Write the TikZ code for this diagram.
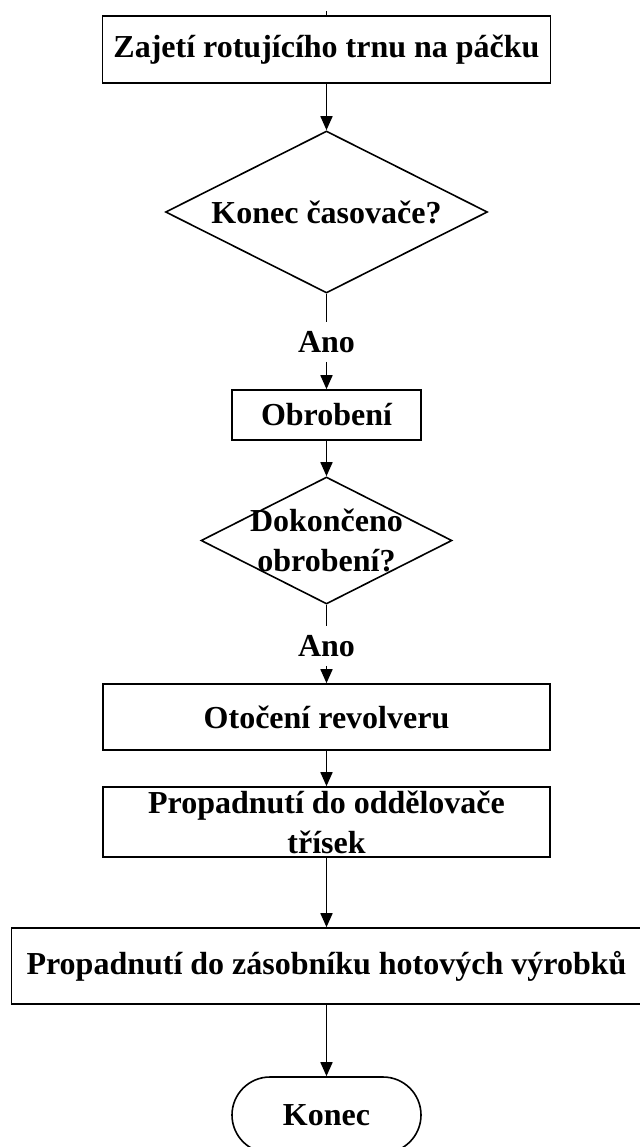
\documentclass[tikz,border=0pt]{standalone}
\usepackage{fontspec}
\setmainfont{Liberation Serif}
\usetikzlibrary{shapes.geometric,arrows.meta}

\begin{document}
\begin{tikzpicture}[x=0.5pt,y=0.5pt,yscale=-1,line width=0.8pt,font=\bfseries\fontsize{16}{20}\selectfont]
	\tikzstyle{krok}=[draw,rectangle,inner sep=2pt,align=center];
	\tikzstyle{dotaz}=[draw,diamond,inner sep=0pt,aspect=2];
	\tikzstyle{konec}=[draw,rectangle,rounded corners=19pt,minimum width=94.5pt,minimum height=38pt];
	\tikzstyle{ano}=[inner sep=0pt,minimum height=19pt];
	\tikzstyle{sipka}=[-{Triangle[length=7pt,width=6pt]}];

	\useasboundingbox (0,0) rectangle (640,1147);

	\coordinate (vstup) at (326.5,11);
	\node[krok,minimum width=224pt,minimum height=33.5pt] (zajeti) at (326.5,49.5) {Zajetí rotujícího trnu na páčku};
	\node[dotaz,minimum width=161pt,minimum height=81pt] (casovac) at (326.5,212) {Konec časovače?};
	\node[ano] (ano1) at (326.5,342) {Ano};
	\node[krok,minimum width=94.5pt,minimum height=25pt] (obrobeni) at (326.5,415) {Obrobení};
	\node[dotaz,minimum width=125.5pt,minimum height=63.5pt,
		label={[align=center]center:Dokončeno\\obrobení?}] (dokonceno) at (326.5,540.5) {};
	\node[ano] (ano2) at (326.5,646) {Ano};
	\node[krok,minimum width=223.5pt,minimum height=33pt] (otoceni) at (326.5,717) {Otočení revolveru};
	\node[krok,minimum width=223.5pt,minimum height=35pt,inner sep=0pt] (oddelovac) at (326.5,822) {Propadnutí do oddělovače\\třísek};
	\node[krok,minimum width=315pt,minimum height=38pt] (zasobnik) at (326.5,966) {Propadnutí do zásobníku hotových výrobků};
	\node[konec] (konec) at (326.5,1115) {Konec};

	\draw (vstup) -- (zajeti);
	\draw[sipka] (zajeti) -- (casovac);
	\draw (casovac) -- (ano1);
	\draw[sipka] (ano1) -- (obrobeni);
	\draw[sipka] (obrobeni) -- (dokonceno);
	\draw (dokonceno) -- (ano2);
	\draw[sipka] (ano2) -- (otoceni);
	\draw[sipka] (otoceni) -- (oddelovac);
	\draw[sipka] (oddelovac) -- (zasobnik);
	\draw[sipka] (zasobnik) -- (konec);
\end{tikzpicture}
\end{document}
